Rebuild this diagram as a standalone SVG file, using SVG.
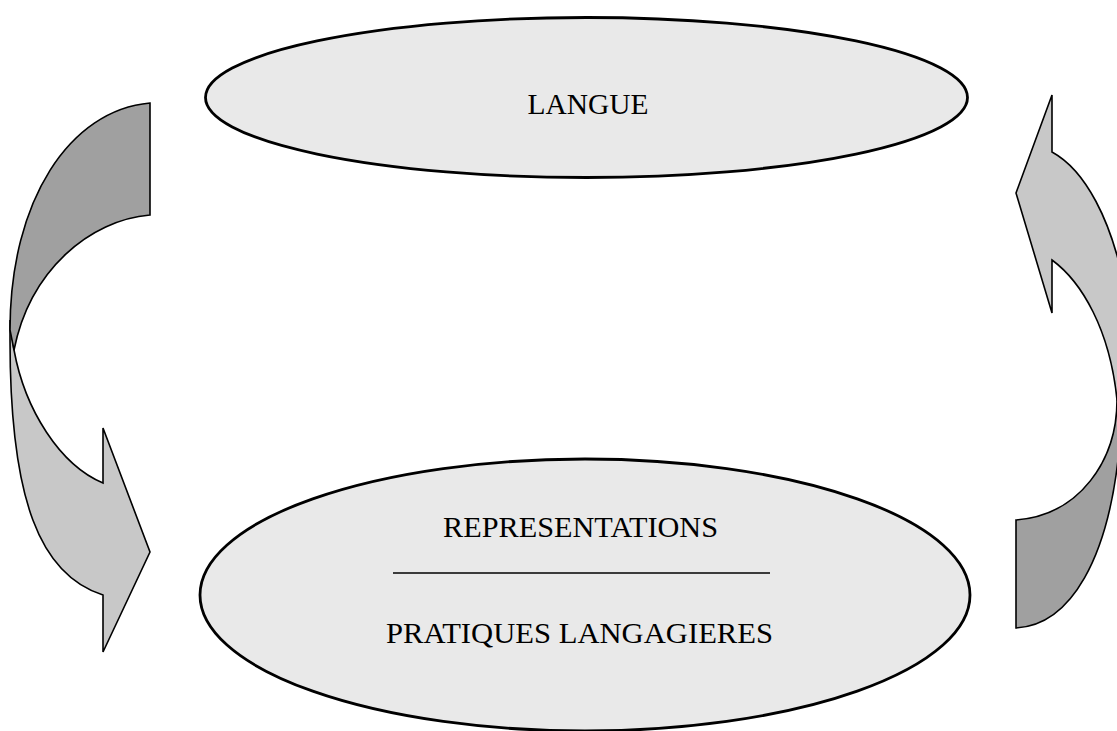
<svg xmlns="http://www.w3.org/2000/svg" width="1117" height="731" viewBox="0 0 1117 731">
<defs>
<style>
.ell{fill:#e9e9e9;stroke:#000;stroke-width:2.8}
.dark{fill:#a0a0a0;stroke:#000;stroke-width:1.6;stroke-linejoin:miter}
.light{fill:#c8c8c8;stroke:#000;stroke-width:1.6;stroke-linejoin:miter}
.lbl{font-family:"Liberation Serif","Times New Roman",serif;font-size:30px;fill:#000}
</style>
</defs>
<rect width="1117" height="731" fill="#fff"/>
<g id="connectors">
<g id="arrow-left">
<path class="light" d="M10,320 L10,340 C10,500 40,575 103,595 L103,652 L150,552 L103,428 L103,483 C60,465 25,410 14,350 Z"/>
<path class="dark" d="M150,103 L150,215 C90,220 30,270 14,350 L10,330 C10,200 70,110 150,103 Z"/>
</g>
<g id="arrow-right">
<path class="light" d="M1052,95 L1016,193 L1052,313 L1052,260 C1082,282 1110,330 1117,400 L1135,400 L1135,300 L1125,290 C1112,220 1085,170 1052,152 Z"/>
<path class="dark" d="M1016,520 L1016,628 C1070,625 1110,560 1120,440 L1135,400 L1117,400 C1117,460 1080,515 1016,520 Z"/>
</g>
</g>
<g id="node-langue">
<ellipse class="ell" cx="586.5" cy="97.5" rx="381" ry="80"/>
<text class="lbl" x="588" y="114" text-anchor="middle" textLength="121" lengthAdjust="spacingAndGlyphs">LANGUE</text>
</g>
<g id="node-representations">
<ellipse class="ell" cx="585" cy="595" rx="385" ry="136"/>
<text class="lbl" x="580.5" y="537" text-anchor="middle" textLength="275" lengthAdjust="spacingAndGlyphs">REPRESENTATIONS</text>
<line x1="393" y1="573" x2="770" y2="573" stroke="#000" stroke-width="1.3"/>
<text class="lbl" x="579.5" y="643" text-anchor="middle" textLength="387" lengthAdjust="spacingAndGlyphs">PRATIQUES LANGAGIERES</text>
</g>
</svg>
